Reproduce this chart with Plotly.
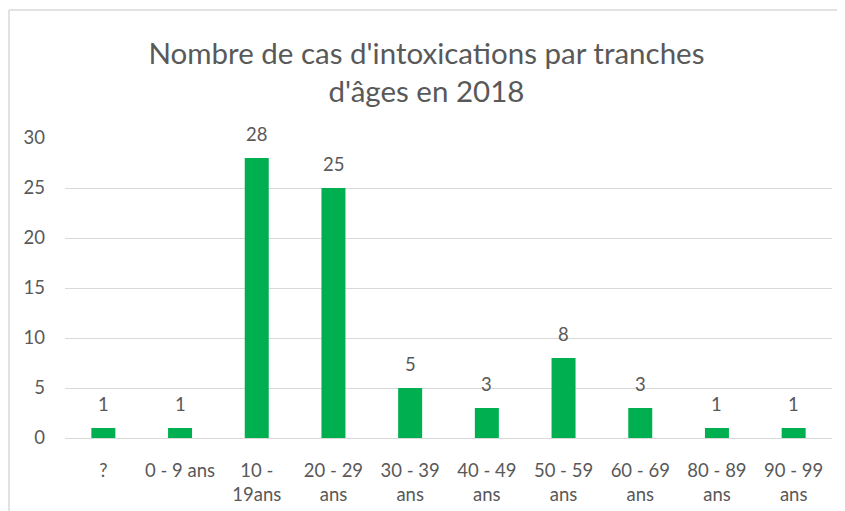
import plotly.graph_objects as go

categories = ["?", "0 - 9 ans", "10 -<br>19ans", "20 - 29<br>ans", "30 - 39<br>ans",
              "40 - 49<br>ans", "50 - 59<br>ans", "60 - 69<br>ans", "80 - 89<br>ans", "90 - 99<br>ans"]
values = [1, 1, 28, 25, 5, 3, 8, 3, 1, 1]
y_ticks = [0, 5, 10, 15, 20, 25, 30]

FONT = "Lato"
GRAY = "#595959"

fig = go.Figure(go.Bar(
    x=categories, y=values,
    marker=dict(color="#00B050", line=dict(width=0)),
))

annotations = [
    dict(x=c, y=v, text=str(v), showarrow=False, xref="x", yref="y",
         yanchor="bottom", yshift=11,
         font=dict(family=FONT, size=18.5, color=GRAY))
    for c, v in zip(categories, values)
]

W, H = 837, 503
ml, mr, mt, mb = 57, 13, 130, 73
pw, ph = W - ml - mr, H - mt - mb
bx = (1 - ml) / pw
by = 1 + (mt - 2) / ph
bx_right = (W - ml) / pw

fig.update_layout(
    width=W, height=H,
    margin=dict(l=ml, r=mr, t=mt, b=mb),
    paper_bgcolor="white", plot_bgcolor="white",
    bargap=0.687,
    showlegend=False,
    annotations=annotations,
    title=dict(text="Nombre de cas d'intoxications par tranches<br>d'âges en 2018",
               x=0.5, xanchor="center", y=1 - 56 / H, yanchor="top",
               font=dict(family=FONT, size=29.5, color=GRAY)),
    xaxis=dict(showline=True, linecolor="#D9D9D9", linewidth=1, ticks="", automargin=False,
               ticklabelstandoff=16,
               tickfont=dict(family=FONT, size=18.5, color=GRAY), fixedrange=True),
    yaxis=dict(range=[0, 30], tickvals=y_ticks, showgrid=True, gridcolor="#D9D9D9",
               zeroline=False, showline=False, ticks="", ticklabelstandoff=19, automargin=False,
               tickfont=dict(family=FONT, size=18.5, color=GRAY)),
    shapes=[
        dict(type="line", xref="paper", yref="paper", x0=bx, x1=bx, y0=-0.3, y1=by,
             line=dict(color="#D9D9D9", width=1.5)),
        dict(type="line", xref="paper", yref="paper", x0=bx, x1=bx_right, y0=by, y1=by,
             line=dict(color="#D9D9D9", width=1.5)),
    ],
)

fig.write_html("out.html")
